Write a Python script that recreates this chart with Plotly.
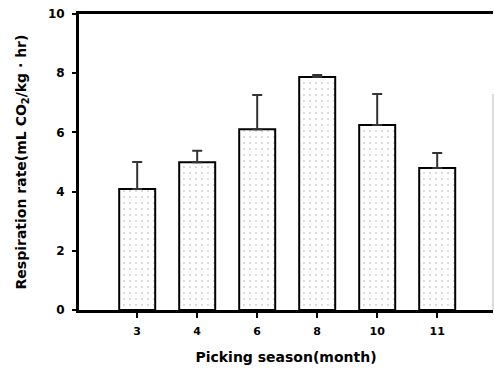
import plotly.graph_objects as go

months = ["3", "4", "6", "8", "10", "11"]
rates = [4.09, 4.99, 6.11, 7.87, 6.25, 4.80]
err_up = [0.91, 0.39, 1.15, 0.07, 1.05, 0.50]
yticks = [0, 2, 4, 6, 8, 10]

FONT = "DejaVu Sans, sans-serif"

fig = go.Figure()
fig.add_trace(go.Bar(
    x=months, y=rates, width=0.6,
    marker=dict(
        color="white",
        line=dict(color="black", width=2),
        pattern=dict(shape=".", fgcolor="#a8a8a8", bgcolor="white", size=6, solidity=0.1),
    ),
    error_y=dict(type="data", symmetric=False, array=err_up, arrayminus=[0]*len(err_up),
                 color="#333333", thickness=2, width=5),
    showlegend=False,
))

fig.update_layout(
    width=494, height=370,
    margin=dict(l=79, r=1, t=14, b=60),
    plot_bgcolor="white", paper_bgcolor="white",
    font=dict(family=FONT, size=13, color="black"),
    bargap=0.4,
)
fig.update_xaxes(
    type="category", range=[-0.97, 5.93],
    tickvals=months, ticktext=["<b>%s</b>" % m for m in months],
    showline=True, linecolor="black", linewidth=3, mirror=True,
    ticks="outside", ticklen=5, tickwidth=1.5, tickcolor="black",
    ticklabelstandoff=4,
    tickfont=dict(family=FONT, size=11, color="black"),
    title=dict(text="<b>Picking season(month)</b>", font=dict(family=FONT, size=14), standoff=15),
    showgrid=False,
)
fig.update_yaxes(
    range=[0, 10], tickvals=yticks, ticktext=["<b>%d</b>" % v for v in yticks],
    showline=True, linecolor="black", linewidth=3,
    ticks="outside", ticklen=4, tickwidth=2, tickcolor="black",
    ticklabelstandoff=5,
    tickfont=dict(family=FONT, size=12, color="black"),
    title=dict(text="<b>Respiration rate(mL CO<sub>2</sub>/kg · hr)</b>", font=dict(family=FONT, size=14), standoff=18),
    showgrid=False, zeroline=False,
)
# faint right border as in the scan
fig.add_shape(type="line", xref="paper", yref="y", x0=1, x1=1, y0=0, y1=7.3,
              line=dict(color="#bbbbbb", width=1))

fig.write_html("out.html")
